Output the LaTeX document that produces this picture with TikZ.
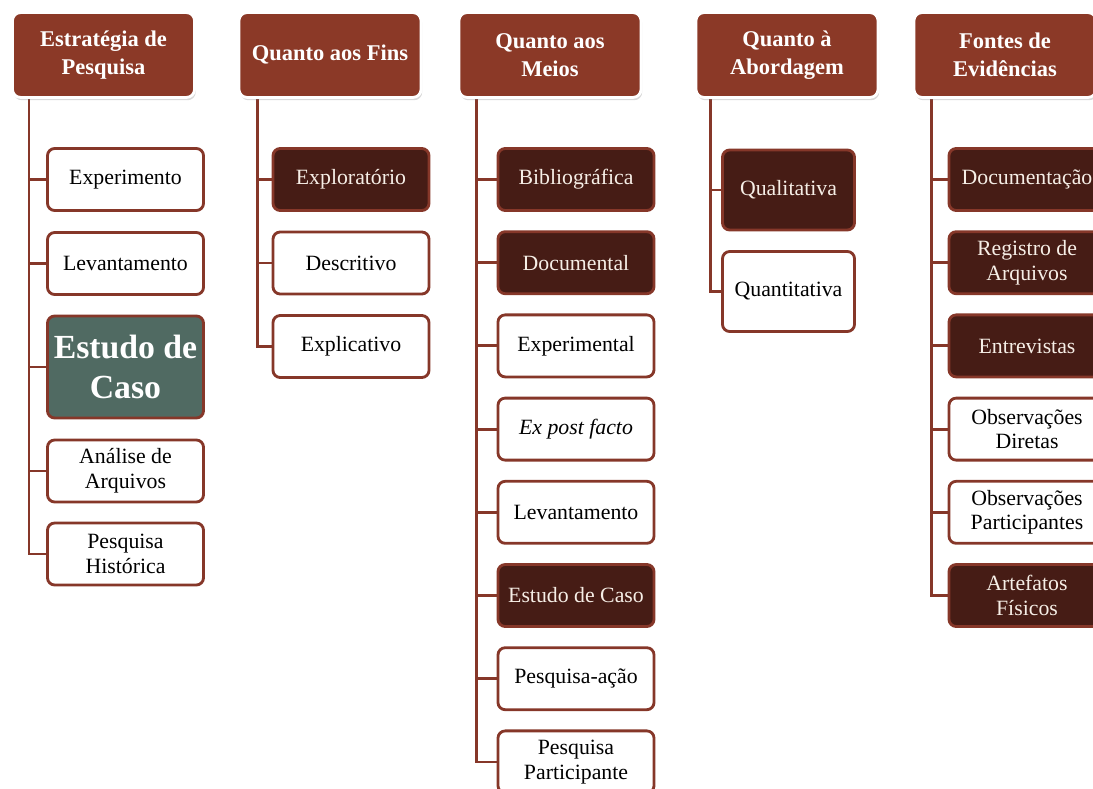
\documentclass[tikz,border=0pt]{standalone}
\usepackage{fontspec}
\setmainfont{Liberation Serif}
\usetikzlibrary{shadows,backgrounds}
\definecolor{headred}{RGB}{139,57,39}
\definecolor{darkbrown}{RGB}{70,28,21}
\definecolor{rimbrown}{RGB}{134,55,41}
\definecolor{casegreen}{RGB}{80,106,98}
\definecolor{cream}{RGB}{246,238,230}
\tikzset{
  header/.style = {rectangle, rounded corners=0.2cm, fill=headred, draw=white, line width=2pt,
    drop shadow={shadow xshift=0.03cm, shadow yshift=-0.07cm, opacity=0.3},
    minimum width=4.55cm, minimum height=2.12cm, align=center,
    text=white, font=\fontsize{16}{20}\selectfont\bfseries},
  item/.style = {rectangle, rounded corners=0.18cm, draw=rimbrown, line width=2pt, fill=white,
    minimum width=3.9cm, minimum height=1.55cm, align=center, inner sep=2pt,
    font=\fontsize{15.5}{17.5}\selectfont},
  darkitem/.style = {item, fill=darkbrown, text=cream},
  bigitem/.style = {item, fill=casegreen, text=white, minimum height=2.55cm,
    font=\fontsize{24}{28}\selectfont\bfseries},
  wideitem/.style = {minimum width=3.3cm, minimum height=2cm},
  link/.style = {draw=rimbrown, line width=2pt}
}

\begin{document}
\begin{tikzpicture}[x=0.025cm, y=-0.025cm]
    \useasboundingbox (0,0) rectangle (1093,789);
    \clip (0,0) rectangle (1093,789);
    % Header row
    \node[header] (h1) at (103.5,55) {Estratégia de\\Pesquisa};
    \node[header] (h2) at (330,55) {Quanto aos Fins};
    \node[header] (h3) at (550,55) {Quanto aos\\Meios};
    \node[header] (h4) at (787,55) {Quanto à\\Abordagem};
    \node[header] (h5) at (1005,55) {Fontes de\\Evidências};
    % Estrategia de pesquisa
    \foreach \i/\sty/\txt/\y in {1/item/Experimento/179.5, 2/item/Levantamento/263.5,
      3/bigitem/{Estudo de\\Caso}/367, 4/item/{Análise de\\Arquivos}/471,
      5/item/{Pesquisa\\Histórica}/554}
    \node[\sty] (a\i) at (125.5,\y) {\txt};
    % Quanto aos fins
    \foreach \i/\sty/\txt [evaluate=\i as \y using 179.5+83.5*(\i-1)] in
      {1/darkitem/Exploratório, 2/item/Descritivo, 3/item/Explicativo}
    \node[\sty] (b\i) at (351,\y) {\txt};
    % Quanto aos meios
    \foreach \i/\sty/\txt [evaluate=\i as \y using 179.5+83.2*(\i-1)] in
      {1/darkitem/Bibliográfica, 2/darkitem/Documental, 3/item/Experimental,
       4/item/{\textit{Ex post facto}}, 5/item/Levantamento, 6/darkitem/Estudo de Caso,
       7/item/Pesquisa-ação, 8/item/{Pesquisa\\Participante}}
    \node[\sty] (c\i) at (576,\y) {\txt};
    % Quanto a abordagem
    \node[darkitem, wideitem] (d1) at (788.5,190) {Qualitativa};
    \node[item, wideitem] (d2) at (788.5,291.5) {Quantitativa};
    % Fontes de evidencias
    \foreach \i/\sty/\txt [evaluate=\i as \y using 179.5+83.2*(\i-1)] in
      {1/darkitem/Documentação, 2/darkitem/{Registro de\\Arquivos}, 3/darkitem/Entrevistas,
       4/item/{Observações\\Diretas}, 5/item/{Observações\\Participantes},
       6/darkitem/{Artefatos\\Físicos}}
    \node[\sty] (e\i) at (1027,\y) {\txt};
    % Connectors behind the boxes
    \begin{scope}[on background layer]
      \foreach \i in {1,...,5}
      \draw[link] ([xshift=0.45cm]h1.south west) |- (a\i.west);
      \foreach \i in {1,...,3}
      \draw[link] ([xshift=0.5cm]h2.south west) |- (b\i.west);
      \foreach \i in {1,...,8}
      \draw[link] ([xshift=0.48cm]h3.south west) |- (c\i.west);
      \foreach \i in {1,2}
      \draw[link] ([xshift=0.4cm]h4.south west) |- (d\i.west);
      \foreach \i in {1,...,6}
      \draw[link] ([xshift=0.48cm]h5.south west) |- (e\i.west);
    \end{scope}
\end{tikzpicture}
\end{document}
